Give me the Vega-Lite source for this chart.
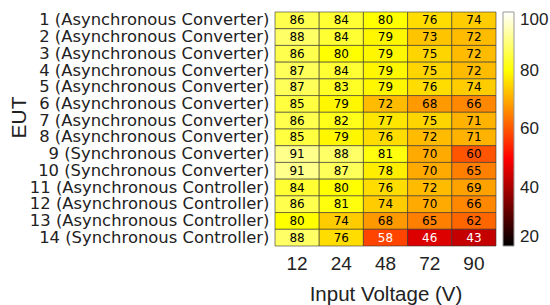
{
  "$schema": "https://vega.github.io/schema/vega-lite/v6.json",
  "autosize": "none",
  "width": 221,
  "height": 234,
  "padding": {"left": 275, "top": 12, "right": 54, "bottom": 59},
  "background": "white",
  "config": {"font": "Liberation Sans", "view": {"stroke": null}},
  "datasets": {
    "eff": [
      {"eut": "1 (Asynchronous Converter)", "v": "12", "eff": 86}, {"eut": "1 (Asynchronous Converter)", "v": "24", "eff": 84}, {"eut": "1 (Asynchronous Converter)", "v": "48", "eff": 80}, {"eut": "1 (Asynchronous Converter)", "v": "72", "eff": 76}, {"eut": "1 (Asynchronous Converter)", "v": "90", "eff": 74},
      {"eut": "2 (Asynchronous Converter)", "v": "12", "eff": 88}, {"eut": "2 (Asynchronous Converter)", "v": "24", "eff": 84}, {"eut": "2 (Asynchronous Converter)", "v": "48", "eff": 79}, {"eut": "2 (Asynchronous Converter)", "v": "72", "eff": 73}, {"eut": "2 (Asynchronous Converter)", "v": "90", "eff": 72},
      {"eut": "3 (Asynchronous Converter)", "v": "12", "eff": 86}, {"eut": "3 (Asynchronous Converter)", "v": "24", "eff": 80}, {"eut": "3 (Asynchronous Converter)", "v": "48", "eff": 79}, {"eut": "3 (Asynchronous Converter)", "v": "72", "eff": 75}, {"eut": "3 (Asynchronous Converter)", "v": "90", "eff": 72},
      {"eut": "4 (Asynchronous Converter)", "v": "12", "eff": 87}, {"eut": "4 (Asynchronous Converter)", "v": "24", "eff": 84}, {"eut": "4 (Asynchronous Converter)", "v": "48", "eff": 79}, {"eut": "4 (Asynchronous Converter)", "v": "72", "eff": 75}, {"eut": "4 (Asynchronous Converter)", "v": "90", "eff": 72},
      {"eut": "5 (Asynchronous Converter)", "v": "12", "eff": 87}, {"eut": "5 (Asynchronous Converter)", "v": "24", "eff": 83}, {"eut": "5 (Asynchronous Converter)", "v": "48", "eff": 79}, {"eut": "5 (Asynchronous Converter)", "v": "72", "eff": 76}, {"eut": "5 (Asynchronous Converter)", "v": "90", "eff": 74},
      {"eut": "6 (Asynchronous Converter)", "v": "12", "eff": 85}, {"eut": "6 (Asynchronous Converter)", "v": "24", "eff": 79}, {"eut": "6 (Asynchronous Converter)", "v": "48", "eff": 72}, {"eut": "6 (Asynchronous Converter)", "v": "72", "eff": 68}, {"eut": "6 (Asynchronous Converter)", "v": "90", "eff": 66},
      {"eut": "7 (Asynchronous Converter)", "v": "12", "eff": 86}, {"eut": "7 (Asynchronous Converter)", "v": "24", "eff": 82}, {"eut": "7 (Asynchronous Converter)", "v": "48", "eff": 77}, {"eut": "7 (Asynchronous Converter)", "v": "72", "eff": 75}, {"eut": "7 (Asynchronous Converter)", "v": "90", "eff": 71},
      {"eut": "8 (Asynchronous Converter)", "v": "12", "eff": 85}, {"eut": "8 (Asynchronous Converter)", "v": "24", "eff": 79}, {"eut": "8 (Asynchronous Converter)", "v": "48", "eff": 76}, {"eut": "8 (Asynchronous Converter)", "v": "72", "eff": 72}, {"eut": "8 (Asynchronous Converter)", "v": "90", "eff": 71},
      {"eut": "9 (Synchronous Converter)", "v": "12", "eff": 91}, {"eut": "9 (Synchronous Converter)", "v": "24", "eff": 88}, {"eut": "9 (Synchronous Converter)", "v": "48", "eff": 81}, {"eut": "9 (Synchronous Converter)", "v": "72", "eff": 70}, {"eut": "9 (Synchronous Converter)", "v": "90", "eff": 60},
      {"eut": "10 (Synchronous Converter)", "v": "12", "eff": 91}, {"eut": "10 (Synchronous Converter)", "v": "24", "eff": 87}, {"eut": "10 (Synchronous Converter)", "v": "48", "eff": 78}, {"eut": "10 (Synchronous Converter)", "v": "72", "eff": 70}, {"eut": "10 (Synchronous Converter)", "v": "90", "eff": 65},
      {"eut": "11 (Asynchronous Controller)", "v": "12", "eff": 84}, {"eut": "11 (Asynchronous Controller)", "v": "24", "eff": 80}, {"eut": "11 (Asynchronous Controller)", "v": "48", "eff": 76}, {"eut": "11 (Asynchronous Controller)", "v": "72", "eff": 72}, {"eut": "11 (Asynchronous Controller)", "v": "90", "eff": 69},
      {"eut": "12 (Asynchronous Controller)", "v": "12", "eff": 86}, {"eut": "12 (Asynchronous Controller)", "v": "24", "eff": 81}, {"eut": "12 (Asynchronous Controller)", "v": "48", "eff": 74}, {"eut": "12 (Asynchronous Controller)", "v": "72", "eff": 70}, {"eut": "12 (Asynchronous Controller)", "v": "90", "eff": 66},
      {"eut": "13 (Asynchronous Controller)", "v": "12", "eff": 80}, {"eut": "13 (Asynchronous Controller)", "v": "24", "eff": 74}, {"eut": "13 (Asynchronous Controller)", "v": "48", "eff": 68}, {"eut": "13 (Asynchronous Controller)", "v": "72", "eff": 65}, {"eut": "13 (Asynchronous Controller)", "v": "90", "eff": 62},
      {"eut": "14 (Synchronous Controller)", "v": "12", "eff": 88}, {"eut": "14 (Synchronous Controller)", "v": "24", "eff": 76}, {"eut": "14 (Synchronous Controller)", "v": "48", "eff": 58}, {"eut": "14 (Synchronous Controller)", "v": "72", "eff": 46}, {"eut": "14 (Synchronous Controller)", "v": "90", "eff": 43}
    ]
  },
  "data": {"name": "eff"},
  "encoding": {
    "x": {"field": "v", "type": "ordinal", "sort": ["12", "24", "48", "72", "90"], "scale": {"paddingInner": 0, "paddingOuter": 0},
      "axis": {"title": "Input Voltage (V)", "labelAngle": 0, "labelFontSize": 19, "titleFontSize": 20.5, "titleFontWeight": "normal", "ticks": false, "domain": false, "labelPadding": 8, "titlePadding": 11, "labelColor": "#222", "titleColor": "#222"}},
    "y": {"field": "eut", "type": "nominal", "sort": null, "scale": {"paddingInner": 0, "paddingOuter": 0},
      "axis": {"title": "EUT", "labelFont": "DejaVu Sans", "labelFontSize": 16.4, "labelLimit": 0, "titleFontSize": 21, "titleFontWeight": "normal", "titleX": -246, "titleY": 105, "titleBaseline": "bottom", "ticks": false, "domain": false, "labelPadding": 6, "labelColor": "#222", "titleColor": "#222"}}
  },
  "layer": [
    {
      "mark": {"type": "rect", "stroke": "#333", "strokeWidth": 0.6},
      "encoding": {
        "color": {"field": "eff", "type": "quantitative",
          "scale": {"domain": [20, 50, 80, 100], "range": ["#000000", "#ff0000", "#ffff00", "#ffffff"], "interpolate": "rgb"},
          "legend": {"title": null, "orient": "right", "offset": 7, "padding": 0, "gradientLength": 234, "gradientThickness": 11, "values": [20, 40, 60, 80, 100], "labelFontSize": 17, "labelColor": "#222", "gradientStrokeColor": "#999", "gradientStrokeWidth": 1, "labelOffset": 6}}
      }
    },
    {
      "mark": {"type": "text", "font": "DejaVu Sans", "fontSize": 12, "baseline": "middle"},
      "encoding": {
        "text": {"field": "eff", "type": "quantitative"},
        "color": {"condition": {"test": "datum.eff < 60", "value": "white"}, "value": "black"}
      }
    }
  ]
}
